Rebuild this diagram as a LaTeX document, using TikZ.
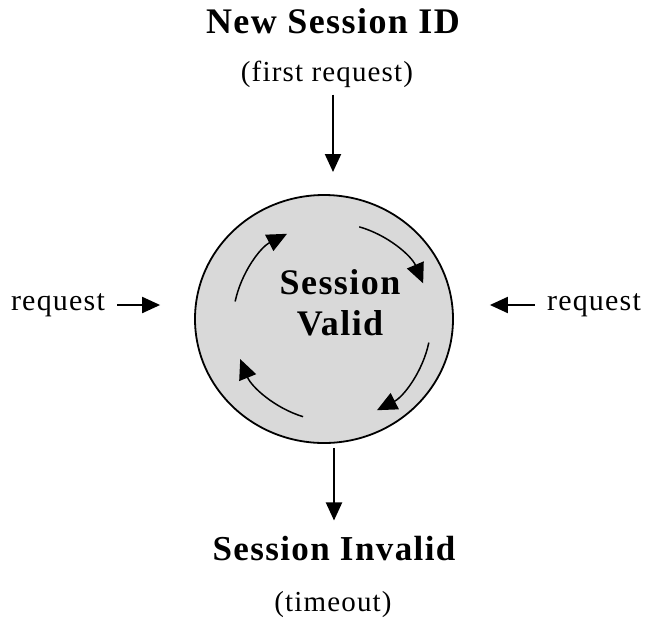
\documentclass[tikz,border=0pt]{standalone}
\usepackage{fontspec}
\setmainfont{Liberation Serif}
\usetikzlibrary{positioning, arrows.meta, shapes.geometric}

\tikzset{
  headline/.style={inner sep=2pt, font=\fontsize{36}{41}\selectfont\bfseries\addfontfeatures{LetterSpace=4}},
  caption/.style={inner sep=2pt, font=\fontsize{29}{34}\selectfont\addfontfeatures{LetterSpace=4}},
  flow/.style={line width=2pt, -{Triangle[length=18pt,width=16pt]}},
  cyclearrow/.style={line width=1.5pt, -{Triangle[length=20pt,width=18pt]}},
  hubshape/.style={ellipse, draw, line width=1.8pt, fill=gray!30,
    minimum width=258pt, minimum height=248pt}
}

\begin{document}
\begin{tikzpicture}[x=1pt,y=-1pt]
\useasboundingbox (0,0) rectangle (648,641);

\node[headline] (newid) at (333,21) {New Session ID};
\node[caption] (firstreq) at (327,74) {(first request)};

\node[hubshape] (valid) at (324,319) {};
\node[headline, align=center] (validtext) at (340,303) {Session\\Valid};

\node[caption] (reqleft) at (58,305) {\fontsize{30}{34}\selectfont request};
\node[caption] (reqright) at (594,305) {\fontsize{30}{34}\selectfont request};

\node[headline] (invalid) at (334,549) {\fontsize{35}{40}\selectfont Session Invalid};
\node[caption] (timeout) at (333,605) {(timeout)};

% arrows in and out
\coordinate (topend) at (333,172);
\draw[flow, shorten <=5pt] (firstreq.south -| topend) -- (topend);
\draw[flow, shorten <=10pt, shorten >=34pt] (reqleft.east) -- (reqleft -| valid.west);
\draw[flow, shorten <=10pt, shorten >=36pt] (reqright.west) -- (reqright -| valid.east);
\draw[flow, shorten <=4pt, shorten >=14pt] (valid.south -| invalid.north) -- (invalid.north);

% circulating arrows
\coordinate (hub) at (332,322);
\foreach \a in {-168,-74,12,107}
  \draw[cyclearrow] ([shift={(\a:99)}]hub) arc (\a:\a+51:99);
\end{tikzpicture}
\end{document}
